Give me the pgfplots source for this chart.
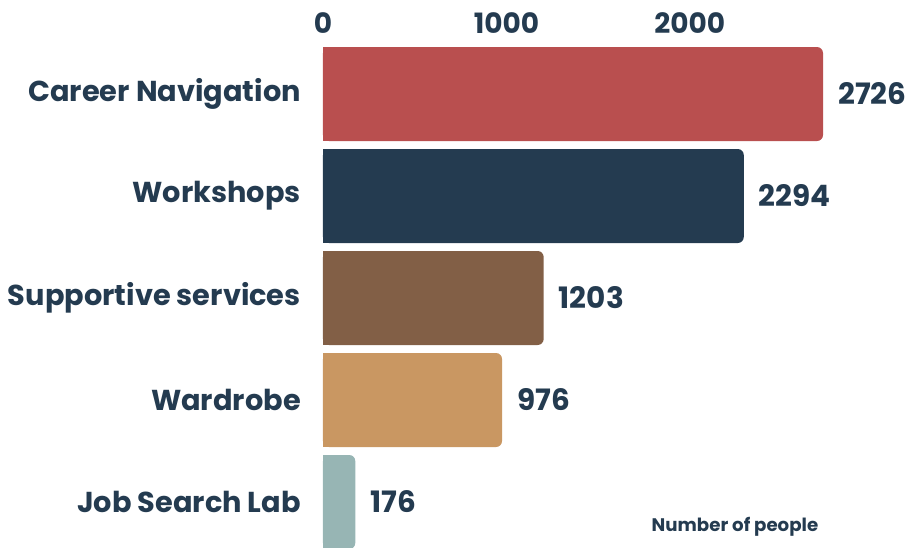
\documentclass[border=0pt]{standalone}
\usepackage{fontspec}
\setmainfont{Poppins}
\usepackage{pgfplots}
\pgfplotsset{compat=1.18}
\definecolor{navy}{HTML}{243B50}
\definecolor{cred}{HTML}{B94F4F}
\definecolor{cbrown}{HTML}{825F46}
\definecolor{ctan}{HTML}{C99762}
\definecolor{cteal}{HTML}{97B5B4}
\begin{document}
\begin{tikzpicture}
\begin{axis}[
  at={(323pt,-6pt)}, anchor=south west,
  scale only axis, width=500pt, height=510pt,
  xmin=0, xmax=2726, ymin=-0.5, ymax=4.5,
  y dir=reverse,
  xbar, bar width=94pt, bar shift=0pt,
  axis line style={draw=none}, tick style={draw=none},
  major tick length=0pt,
  xtick={0,1000,2000}, xticklabel pos=top,
  ytick={0,1,2,3,4},
  yticklabels={Career Navigation,Workshops,Supportive services,Wardrobe,Job Search Lab},
  /pgf/number format/assume math mode=true,
  /pgf/number format/1000 sep={},
  xticklabel style={font=\fontsize{28}{32}\selectfont\bfseries, text=navy, anchor=base, inner sep=0pt, yshift=10pt},
  yticklabel style={font=\fontsize{28.8}{32}\selectfont\bfseries, text=navy, anchor=east, inner sep=0pt, xshift=-22pt},
  every node near coord/.append style={font=\fontsize{29.5}{33}\selectfont\bfseries, text=navy, anchor=west, inner sep=0pt, xshift=15pt},
]
\addplot[draw=none, fill=cred, rounded corners=6pt, nodes near coords] coordinates {(2726,0)};
\addplot[draw=none, fill=navy, rounded corners=6pt, nodes near coords] coordinates {(2294,1)};
\addplot[draw=none, fill=cbrown, rounded corners=6pt, nodes near coords] coordinates {(1203,2)};
\addplot[draw=none, fill=ctan, rounded corners=6pt, nodes near coords] coordinates {(976,3)};
\addplot[draw=none, fill=cteal, rounded corners=6pt, nodes near coords] coordinates {(176,4)};
\addplot[draw=none, fill=cred] coordinates {(60,0)};
\addplot[draw=none, fill=navy] coordinates {(60,1)};
\addplot[draw=none, fill=cbrown] coordinates {(60,2)};
\addplot[draw=none, fill=ctan] coordinates {(60,3)};
\addplot[draw=none, fill=cteal] coordinates {(60,4)};
\end{axis}
\node[font=\fontsize{18.2}{21}\selectfont\bfseries, text=navy] at (735pt,20pt) {Number of people};
\pgfresetboundingbox
\useasboundingbox (0,0) rectangle (905pt,547pt);
\end{tikzpicture}
\end{document}
